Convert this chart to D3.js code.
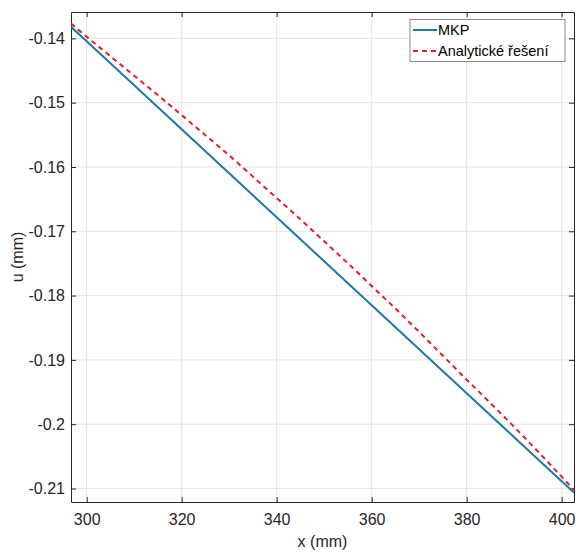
<!DOCTYPE html>
<html><head><meta charset="utf-8">
<script src="https://cdn.jsdelivr.net/npm/d3@7"></script>
<style>body{margin:0;background:#fff;} text{font-family:Arial,"Liberation Sans",sans-serif;}</style>
</head><body><svg id="c" width="576" height="555"></svg>
<script>
const xs = [296.7,300,305,310,315,320,325,330,335,340,345,350,355,360,365,370,375,380,385,390,395,400,402.6];
const mkp = [-0.1382,-0.14046,-0.14388,-0.1473,-0.15072,-0.15414,-0.15756,-0.16098,-0.1644,-0.16782,-0.17124,-0.17466,-0.17808,-0.1815,-0.18492,-0.18834,-0.19176,-0.19518,-0.1986,-0.20202,-0.20544,-0.20886,-0.21064];
const analytic = [-0.1377,-0.13976,-0.14278,-0.1458,-0.14882,-0.15194,-0.15506,-0.15818,-0.1615,-0.16482,-0.16814,-0.17156,-0.17498,-0.1785,-0.18202,-0.18564,-0.18936,-0.19308,-0.1967,-0.20042,-0.20424,-0.20816,-0.21024];
const xTicks = [300,320,340,360,380,400];
const yTicks = [-0.14,-0.15,-0.16,-0.17,-0.18,-0.19,-0.2,-0.21];
const seriesNames = ["MKP","Analytické řešení"];
const xLabel = "x (mm)", yLabel = "u (mm)";

const L=71,R=574,T=12,B=502;
const svg=d3.select("#c");
const x=d3.scaleLinear().domain([296.7,402.6]).range([L,R]);
const y=d3.scaleLinear().domain([-0.2121,-0.1359]).range([B,T]);
const axCol="#262626";
// grid
const g=svg.append("g");
g.selectAll(".gx").data(xTicks).enter().append("line").attr("x1",d=>x(d)).attr("x2",d=>x(d)).attr("y1",T).attr("y2",B).attr("stroke","#e3e3e3").attr("stroke-width",1);
g.selectAll(".gy").data(yTicks).enter().append("line").attr("y1",d=>y(d)).attr("y2",d=>y(d)).attr("x1",L).attr("x2",R).attr("stroke","#e3e3e3").attr("stroke-width",1);
// axes
const xb=svg.append("g").attr("transform",`translate(0,${B})`).call(d3.axisBottom(x).tickValues(xTicks).tickSizeInner(-5).tickSizeOuter(0).tickPadding(12).tickFormat(d3.format("d")));
const xt=svg.append("g").attr("transform",`translate(0,${T})`).call(d3.axisTop(x).tickValues(xTicks).tickSizeInner(-5).tickSizeOuter(0).tickFormat(""));
const yl=svg.append("g").attr("transform",`translate(${L},0)`).call(d3.axisLeft(y).tickValues(yTicks).tickSizeInner(-5).tickSizeOuter(0).tickPadding(6).tickFormat(d=>String(+d.toFixed(2))));
const yr=svg.append("g").attr("transform",`translate(${R},0)`).call(d3.axisRight(y).tickValues(yTicks).tickSizeInner(-5).tickSizeOuter(0).tickFormat(""));
[xb,xt,yl,yr].forEach(a=>{a.select(".domain").attr("stroke",axCol).attr("stroke-width",1);a.selectAll(".tick line").attr("stroke",axCol);a.selectAll("text").attr("fill",axCol).style("font-size","16px").style("font-family","Arial, 'Liberation Sans', sans-serif");});
// lines
const pts1=xs.map((d,i)=>[d,mkp[i]]), pts2=xs.map((d,i)=>[d,analytic[i]]);
const line=d3.line().x(d=>x(d[0])).y(d=>y(d[1]));
const clip=svg.append("clipPath").attr("id","cp").append("rect").attr("x",L).attr("y",T).attr("width",R-L).attr("height",B-T);
svg.append("path").datum(pts1).attr("d",line).attr("fill","none").attr("stroke","#1b7aa6").attr("stroke-width",2).attr("clip-path","url(#cp)");
svg.append("path").datum(pts2).attr("d",line).attr("fill","none").attr("stroke","#e0202c").attr("stroke-width",2).attr("stroke-dasharray","5,4").attr("clip-path","url(#cp)");
// labels
svg.append("text").attr("x",(L+R)/2).attr("y",547).attr("text-anchor","middle").attr("fill",axCol).style("font-size","16px").text(xLabel);
svg.append("text").attr("transform",`translate(23,${(T+B)/2}) rotate(-90)`).attr("text-anchor","middle").attr("fill",axCol).style("font-size","16px").text(yLabel);
// legend
const lg=svg.append("g");
lg.append("rect").attr("x",410).attr("y",19.5).attr("width",155).attr("height",42).attr("fill","#fff").attr("stroke","#8a8a8a").attr("stroke-width",1);
const cols=["#1b7aa6","#e0202c"], dash=[null,"5,4"];
seriesNames.forEach((n,i)=>{
  const cy=30+i*21;
  lg.append("line").attr("x1",413).attr("x2",437).attr("y1",cy).attr("y2",cy).attr("stroke",cols[i]).attr("stroke-width",2).attr("stroke-dasharray",dash[i]);
  lg.append("text").attr("x",438).attr("y",cy+5).attr("fill","#000").style("font-size","14.5px").text(n);
});
</script></body></html>
